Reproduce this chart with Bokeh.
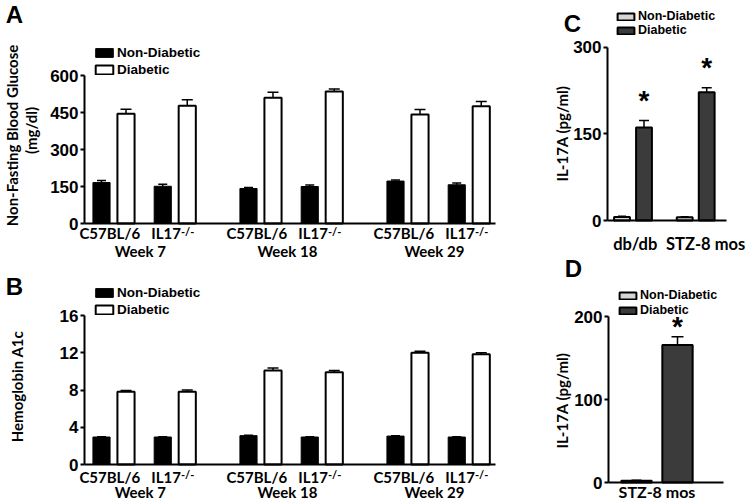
import numpy as np
from bokeh.plotting import figure
from bokeh.models import (Range1d, FixedTicker, Whisker, TeeHead, ColumnDataSource,
                          LabelSet, Label, Legend, LegendItem)
from bokeh.layouts import row, column
from bokeh.core.properties import value
from bokeh.embed import file_html
from bokeh.resources import INLINE

# ---------------- data ----------------
weeks = ["Week 7", "Week 18", "Week 29"]
strains = ["C57BL/6", "IL17"]
strain_sup = ["", "-/-"]
series = ["Non-Diabetic", "Diabetic"]

# panel A: non-fasting blood glucose (mg/dl); order: wk7 C57, wk7 IL17, wk18 C57, wk18 IL17, wk29 C57, wk29 IL17
glucose_nondiab = [166, 151, 142, 150, 172, 157]
glucose_nondiab_err = [8, 8, 4, 6, 4, 7]
glucose_diab = [445, 477, 510, 535, 442, 475]
glucose_diab_err = [18, 25, 22, 10, 20, 20]
glucose_ticks = [0, 150, 300, 450, 600]

# panel B: hemoglobin A1c
hba1c_nondiab = [2.95, 2.95, 3.1, 2.95, 3.05, 2.95]
hba1c_nondiab_err = [0.03, 0.03, 0.03, 0.03, 0.03, 0.03]
hba1c_diab = [7.8, 7.8, 10.1, 9.9, 12.0, 11.85]
hba1c_diab_err = [0.15, 0.2, 0.25, 0.2, 0.15, 0.15]
hba1c_ticks = [0, 4, 8, 12, 16]

# panel C: IL-17A (pg/ml)
il17_models = ["db/db", "STZ-8 mos"]
il17_nondiab = [6, 5.5]
il17_nondiab_err = [1.5, 1.0]
il17_diab = [161, 222]
il17_diab_err = [12, 8]
il17_sig = ["*", "*"]
il17_ticks = [0, 150, 300]

# panel D: IL-17A (pg/ml)
stz_models = ["STZ-8 mos"]
stz_nondiab = [2.0]
stz_nondiab_err = [0.6]
stz_diab = [166]
stz_diab_err = [10]
stz_sig = ["*"]
stz_ticks = [0, 100, 200]

# ---------------- styles ----------------
TICK_FONT = "Liberation Sans"
CAT_FONT = "Lato"


class Geo:
    """Panel canvas at page (pl, pt, W, H); x data 0 at page px xo with ux px/unit,
    y data 0 at page py yo with uy px/unit. The plot frame fills the canvas."""
    def __init__(self, pl, pt, W, H, xo, ux, yo, uy):
        self.pl, self.pt, self.W, self.H = pl, pt, W, H
        self.xo, self.ux, self.yo, self.uy = xo, ux, yo, uy

    def dx(self, px):
        return (px - self.xo) / self.ux

    def dy(self, py):
        return (self.yo - py) / self.uy


def make_fig(g):
    p = figure(width=g.W, height=g.H,
               x_range=Range1d(g.dx(g.pl), g.dx(g.pl + g.W)),
               y_range=Range1d(g.dy(g.pt + g.H), g.dy(g.pt)),
               min_border=0, min_border_left=0, min_border_right=0,
               min_border_top=0, min_border_bottom=0,
               output_backend="svg", toolbar_location=None, tools="")
    p.xgrid.visible = False
    p.ygrid.visible = False
    p.outline_line_color = None
    p.background_fill_color = "white"
    p.border_fill_color = "white"
    return p


def style_axes(p, g, ticks, axis_px, x_end_px):
    ya = p.yaxis[0]
    ya.fixed_location = g.dx(axis_px)
    ya.ticker = FixedTicker(ticks=ticks)
    ya.bounds = (ticks[0], ticks[-1])
    ya.axis_line_width = 2
    ya.axis_line_color = "black"
    ya.major_tick_line_width = 2
    ya.major_tick_out = 4
    ya.major_tick_in = 0
    ya.minor_tick_line_color = None
    ya.major_label_text_font = TICK_FONT
    ya.major_label_text_font_style = "bold"
    ya.major_label_text_font_size = "17px"
    ya.major_label_text_color = "black"
    ya.major_label_standoff = 2
    xa = p.xaxis[0]
    xa.fixed_location = 0
    xa.bounds = (g.dx(axis_px), g.dx(x_end_px))
    xa.ticker = FixedTicker(ticks=[])
    xa.axis_line_width = 2
    xa.axis_line_color = "black"
    xa.major_tick_line_color = None
    xa.minor_tick_line_color = None
    xa.major_label_text_font_size = "0px"


def add_err(p, xs, vals, errs, head):
    src = ColumnDataSource(dict(x=xs, lo=vals, hi=[v + e for v, e in zip(vals, errs)]))
    w = Whisker(source=src, base="x", lower="lo", upper="hi", dimension="height",
                upper_head=TeeHead(size=head, line_width=1.5, line_color="black"),
                lower_head=None, line_width=1.5, line_color="black", level="annotation")
    p.add_layout(w)


def add_legend(p, g, r_nd, r_d, left_px, top_px, gw, gh, lh, spacing, fs):
    bottom_px = top_px + 2 * lh + spacing
    leg = Legend(items=[LegendItem(label=series[0], renderers=[r_nd]),
                        LegendItem(label=series[1], renderers=[r_d])],
                 location=(left_px - g.pl, g.pt + g.H - bottom_px),
                 glyph_width=gw, glyph_height=gh, label_height=lh,
                 spacing=spacing, padding=0, margin=0, label_standoff=2,
                 border_line_color=None, background_fill_alpha=0,
                 label_text_font=TICK_FONT, label_text_font_style="bold",
                 label_text_font_size=fs, label_text_color="black")
    p.add_layout(leg)


def letter(p, g, txt, px, py):
    p.add_layout(Label(x=g.dx(px), y=g.dy(py), text=txt, text_font=TICK_FONT,
                       text_font_style="bold", text_font_size="24px",
                       text_align="center", text_baseline="middle", text_color="black"))


def ytitle(p, g, txt, px, py, fs="15px"):
    p.add_layout(Label(x=g.dx(px), y=g.dy(py), text=txt, text_font=CAT_FONT,
                       text_font_style="bold", text_font_size=fs, angle=np.pi / 2,
                       text_align="center", text_baseline="middle", text_color="black"))


def labelset(p, xs, ys, texts, align="center", x_offset=0, y_offset=0, fs="15px",
             font=CAT_FONT):
    src = ColumnDataSource(dict(x=xs, y=ys, t=texts))
    p.add_layout(LabelSet(source=src, x="x", y="y", text="t", text_font=value(font),
                          text_font_style="bold", text_font_size=fs, text_align=align,
                          text_baseline="middle", x_offset=x_offset, y_offset=y_offset,
                          text_color="black"))


# ---------------- panels A & B (grouped by week and strain) ----------------
GROUP_STEP, STRAIN_STEP, BAR_W = 6.0, 2.5, 0.7


def week_panel(g, nd, nd_err, d, d_err, ticks, y_strain, y_week, title_lines, ltr, ltr_pos,
               legend_top):
    p = make_fig(g)
    style_axes(p, g, ticks, 84, 495)
    xs_nd, xs_d, pair_c, pair_strain, grp_c = [], [], [], [], []
    for gi in range(len(weeks)):
        for si in range(len(strains)):
            base = gi * GROUP_STEP + si * STRAIN_STEP
            xs_nd.append(base)
            xs_d.append(base + 1.0)
            pair_c.append(base + 0.5)
            pair_strain.append(si)
        grp_c.append(gi * GROUP_STEP + (STRAIN_STEP + 1.0) / 2)
    r_nd = p.vbar(x=xs_nd, top=nd, width=BAR_W, fill_color="black", line_color="black",
                  line_width=1)
    r_d = p.vbar(x=xs_d, top=d, width=BAR_W, fill_color="white", line_color="black",
                 line_width=2)
    add_err(p, xs_nd, nd, nd_err, 9)
    add_err(p, xs_d, d, d_err, 11)
    add_legend(p, g, r_nd, r_d, 93, legend_top, 22, 11, 16, 1, "13.5px")
    ys = g.dy(y_strain)
    c57_x = [x for x, s in zip(pair_c, pair_strain) if s == 0]
    il_x = [x for x, s in zip(pair_c, pair_strain) if s == 1]
    labelset(p, c57_x, [ys] * len(c57_x), [strains[0]] * len(c57_x), x_offset=-4)
    labelset(p, il_x, [ys] * len(il_x), [strains[1]] * len(il_x), align="right", x_offset=6)
    labelset(p, il_x, [ys] * len(il_x), [strain_sup[1]] * len(il_x), align="left",
             x_offset=6, y_offset=2, fs="11px")
    labelset(p, grp_c, [g.dy(y_week)] * len(grp_c), weeks, x_offset=-4)
    for txt, px, py in title_lines:
        ytitle(p, g, txt, px, py)
    letter(p, g, ltr, *ltr_pos)
    return p


UX_AB = 24.5  # px per x unit
gA = Geo(0, 0, 553, 262, 101, UX_AB, 223, 148 / 600)
pA = week_panel(gA, glucose_nondiab, glucose_nondiab_err, glucose_diab, glucose_diab_err,
                glucose_ticks, 232.5, 250.5,
                [("Non-Fasting Blood Glucose", 11, 135), ("(mg/dl)", 30, 130)],
                "A", (14, 14), 44)

gB = Geo(0, 262, 553, 239, 101, UX_AB, 464, 149 / 16)
pB = week_panel(gB, hba1c_nondiab, hba1c_nondiab_err, hba1c_diab, hba1c_diab_err,
                hba1c_ticks, 476, 491,
                [("Hemoglobin A1c", 16, 386)],
                "B", (14, 286), 284)

# ---------------- panel C ----------------
gC = Geo(553, 0, 197, 252, 621.5, 22.0, 220, 173.3 / 300)
pC = make_fig(gC)
style_axes(pC, gC, il17_ticks, 607, 726)
MODEL_STEP = 2.85
xc_nd = [i * MODEL_STEP for i in range(len(il17_models))]
xc_d = [i * MODEL_STEP + 1.0 for i in range(len(il17_models))]
rc_nd = pC.vbar(x=xc_nd, top=il17_nondiab, width=0.72, fill_color="#d6d6d6",
                line_color="black", line_width=2)
rc_d = pC.vbar(x=xc_d, top=il17_diab, width=0.72, fill_color="#3b3b3b",
               line_color="black", line_width=2)
add_err(pC, xc_nd, il17_nondiab, il17_nondiab_err, 8)
add_err(pC, xc_d, il17_diab, il17_diab_err, 10)
add_legend(pC, gC, rc_nd, rc_d, 615, 12, 21, 9, 14, -3, "12.5px")
labelset(pC, xc_d, [v + e for v, e in zip(il17_diab, il17_diab_err)], il17_sig,
         y_offset=20, fs="28px", font=TICK_FONT)
# the category labels sit a little right of the bar pairs in the reference
c_label_shift = [0.1, 0.45]
labelset(pC, [x + 0.5 + s for x, s in zip(xc_nd, c_label_shift)],
         [gC.dy(243)] * len(il17_models), il17_models, fs="16.5px")
ytitle(pC, gC, "IL-17A (pg/ml)", 561, 133)
letter(pC, gC, "C", 572, 23)

# ---------------- panel D ----------------
gD = Geo(553, 252, 197, 249, 636, 41.0, 482, 165.7 / 200)
pD = make_fig(gD)
style_axes(pD, gD, stz_ticks, 608, 723)
xd_nd = [i * 2.0 for i in range(len(stz_models))]
xd_d = [i * 2.0 + 1.0 for i in range(len(stz_models))]
rd_nd = pD.vbar(x=xd_nd, top=stz_nondiab, width=0.74, fill_color="#d6d6d6",
                line_color="black", line_width=2)
rd_d = pD.vbar(x=xd_d, top=stz_diab, width=0.74, fill_color="#3b3b3b",
               line_color="black", line_width=2)
add_err(pD, xd_nd, stz_nondiab, stz_nondiab_err, 10)
add_err(pD, xd_d, stz_diab, stz_diab_err, 12)
add_legend(pD, gD, rd_nd, rd_d, 617, 288, 21, 9, 14, 1, "12.5px")
labelset(pD, xd_d, [v + e for v, e in zip(stz_diab, stz_diab_err)], stz_sig,
         y_offset=10, fs="28px", font=TICK_FONT)
labelset(pD, [x + 0.5 for x in xd_nd], [gD.dy(491)] * len(stz_models), stz_models,
         fs="16px")
ytitle(pD, gD, "IL-17A (pg/ml)", 561, 400)
letter(pD, gD, "D", 573, 268)

layout = row(column(pA, pB), column(pC, pD))
open("out.html", "w").write(file_html(layout, INLINE))
